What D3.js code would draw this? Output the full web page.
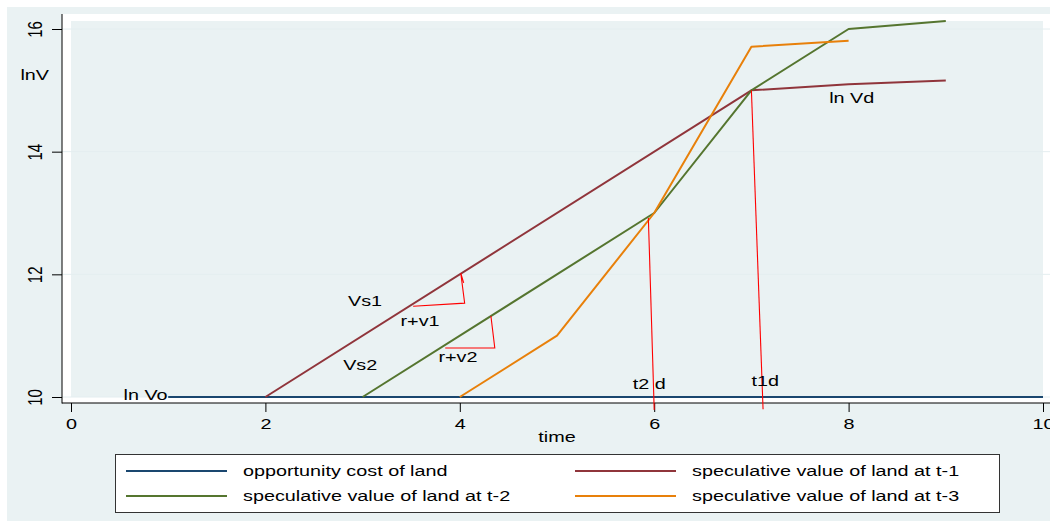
<!DOCTYPE html>
<html><head><meta charset="utf-8">
<script src="https://cdn.jsdelivr.net/npm/d3@7"></script>
<style>html,body{margin:0;padding:0;background:#fff;}svg{display:block;font-family:"Liberation Sans",Arial,sans-serif;}</style>
</head><body>
<svg id="c" width="1050" height="521"></svg>
<script>
// ---- data ----
const timeTicks = [0, 2, 4, 6, 8, 10];
const lnvTicks = [10, 12, 14, 16];
const seriesNames = ["opportunity cost of land", "speculative value of land at t-1", "speculative value of land at t-2", "speculative value of land at t-3"];
const oppTime = [1, 10];
const oppVal = [10, 10];
const t1Time = [2, 7, 8, 9];
const t1Val = [10, 15, 15.1, 15.16];
const t2Time = [3, 6, 7, 8, 9];
const t2Val = [10, 13, 15, 16, 16.13];
const t3Time = [4, 5, 6, 7, 8];
const t3Val = [10, 11, 13, 15.71, 15.81];
// red annotation lines [time, lnV]
const t2dLine = [[5.94, 12.92], [6.0, 9.79]];
const t1dLine = [[7.0, 15.0], [7.12, 9.8]];
const tri1 = [[3.52, 11.48], [4.05, 11.53], [4.01, 12.02], [4.04, 11.86]];
const tri2 = [[3.85, 10.80], [4.36, 10.80], [4.32, 11.32]];
const annLabels = [
  {t: "Vs1", x: 2.85, y: 11.48},
  {t: "r+v1", x: 3.39, y: 11.15},
  {t: "Vs2", x: 2.80, y: 10.44},
  {t: "r+v2", x: 3.78, y: 10.57},
  {t: "ln Vo", x: 0.54, y: 9.95},
  {t: "t2 d", x: 5.78, y: 10.13},
  {t: "t1d", x: 7.0, y: 10.18},
  {t: "ln Vd", x: 7.80, y: 14.80},
  {t: "lnV", x: -0.52, y: 15.17}
];

const colors = ["#1a476f", "#90353b", "#55752f", "#e8800a"];
const SX = 1.32; // horizontal stretch of the reference's lettering

const svg = d3.select("#c");
const x = d3.scaleLinear().domain([0, 10]).range([71, 1043]);
const y = d3.scaleLinear().domain([10, 16]).range([397, 29]);

function stretchedText(sel, px, py) {
  return sel.attr("x", 0).attr("y", 0).attr("transform", `translate(${px},${py}) scale(${SX},1)`);
}

// backgrounds
svg.append("rect").attr("x", 7).attr("y", 7).attr("width", 1043).attr("height", 514).attr("fill", "#eaf2f3");
svg.append("rect").attr("x", 62).attr("y", 14).attr("width", 988).attr("height", 389).attr("fill", "#ffffff");
svg.append("rect").attr("x", 71).attr("y", 21).attr("width", 972).attr("height", 376).attr("fill", "#eaf2f3");

// gridlines
svg.append("g").selectAll("line").data(lnvTicks).join("line")
  .attr("x1", 62).attr("x2", 1050).attr("y1", d => y(d)).attr("y2", d => y(d))
  .attr("stroke", "#e4eef0").attr("stroke-width", 1);

// axes
const yAxis = svg.append("g").attr("transform", "translate(62,0)")
  .call(d3.axisLeft(y).tickValues(lnvTicks).tickSize(10).tickPadding(0).tickFormat(d3.format("d")));
yAxis.select(".domain").remove();
yAxis.selectAll(".tick line").attr("stroke", "#000");
yAxis.selectAll(".tick text").attr("transform", `translate(-27,0) scale(${SX},1) rotate(-90)`)
  .attr("text-anchor", "middle").attr("dy", "0.35em").attr("x", 0).attr("y", 0)
  .attr("font-size", 15).attr("font-family", "Liberation Sans, Arial, sans-serif").attr("fill", "#000");
svg.append("line").attr("x1", 62).attr("x2", 62).attr("y1", 14).attr("y2", 403.5).attr("stroke", "#000").attr("stroke-width", 1);

const xAxis = svg.append("g").attr("transform", "translate(0,403)")
  .call(d3.axisBottom(x).tickValues(timeTicks).tickSize(9).tickPadding(6).tickFormat(d3.format("d")));
xAxis.select(".domain").remove();
xAxis.selectAll(".tick line").attr("stroke", "#000");
xAxis.selectAll(".tick text").attr("transform", `translate(0,15) scale(${SX},1)`).attr("y", 0).attr("dy", "0.71em")
  .attr("font-size", 15).attr("font-family", "Liberation Sans, Arial, sans-serif").attr("fill", "#000");
svg.append("line").attr("x1", 62).attr("x2", 1050).attr("y1", 403).attr("y2", 403).attr("stroke", "#000").attr("stroke-width", 1);

stretchedText(svg.append("text"), x(5), 442).attr("text-anchor", "middle")
  .attr("font-size", 15).text("time");

// series
const line = d3.line().x(d => x(d[0])).y(d => y(d[1]));
const series = [
  d3.zip(oppTime, oppVal),
  d3.zip(t1Time, t1Val),
  d3.zip(t2Time, t2Val),
  d3.zip(t3Time, t3Val)
];
series.forEach((s, i) => {
  svg.append("path").datum(s).attr("d", line).attr("fill", "none")
    .attr("stroke", colors[i]).attr("stroke-width", 2).attr("stroke-linejoin", "round");
});

// red annotations
[t2dLine, t1dLine, tri1, tri2].forEach(s => {
  svg.append("path").datum(s).attr("d", line).attr("fill", "none")
    .attr("stroke", "#ff0000").attr("stroke-width", 1.1);
});

// annotation labels
svg.append("g").selectAll("text").data(annLabels).join("text")
  .attr("x", 0).attr("y", 0)
  .attr("transform", d => `translate(${x(d.x)},${y(d.y)}) scale(${SX},1)`)
  .attr("font-size", 15).attr("fill", "#000").text(d => d.t);

// legend
const lg = svg.append("g");
lg.append("rect").attr("x", 115.5).attr("y", 454.5).attr("width", 884).attr("height", 58)
  .attr("fill", "#fff").attr("stroke", "#333").attr("stroke-width", 1);
const legPos = [[126, 471], [575, 471], [126, 496], [575, 496]];
seriesNames.forEach((n, i) => {
  const [lx, ly] = legPos[i];
  lg.append("line").attr("x1", lx).attr("x2", lx + 101).attr("y1", ly).attr("y2", ly)
    .attr("stroke", colors[i]).attr("stroke-width", 2);
  stretchedText(lg.append("text"), lx + 117, ly + 5).attr("font-size", 15).attr("fill", "#000").text(n);
});
</script>
</body></html>
